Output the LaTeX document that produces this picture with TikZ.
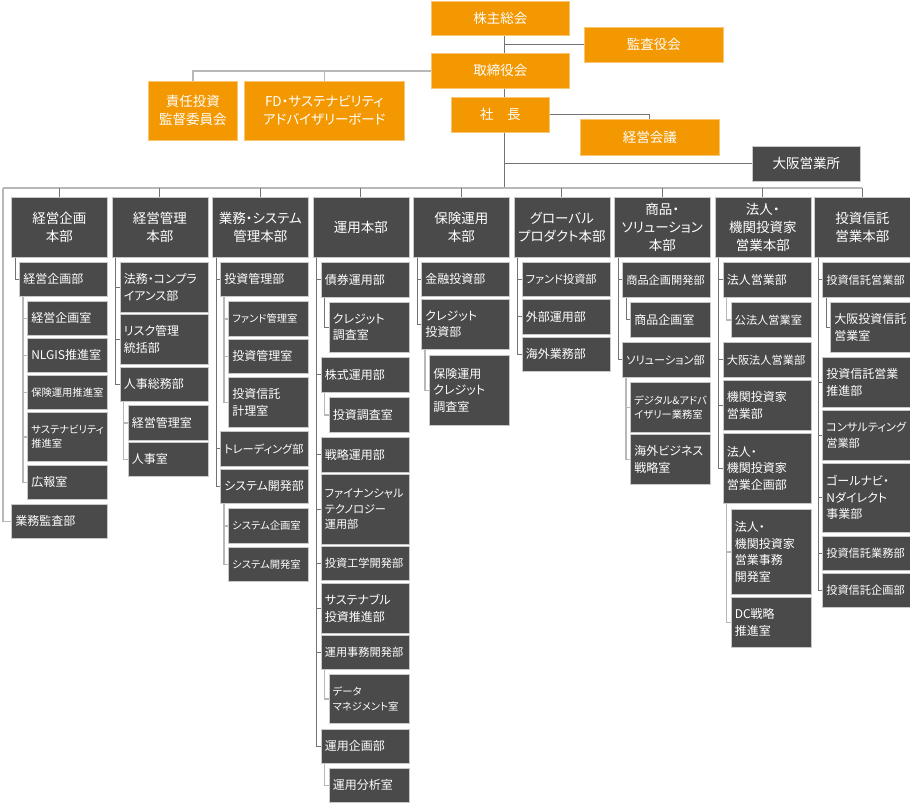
\documentclass[tikz,border=0pt]{standalone}
\usepackage{fontspec}
\setmainfont{Noto Sans CJK JP}[RawFeature=+palt]
\definecolor{orangebox}{HTML}{F39800}
\definecolor{darkbox}{HTML}{4A4A4A}
\definecolor{boxline}{HTML}{C8C8C8}

\begin{document}
\begin{tikzpicture}[x=1pt, y=-1pt,
    orgbox/.style={fill=orangebox, draw=orangebox!55!white, line width=0.6pt, text=white,
      font=\fontsize{13.5}{18}\selectfont, align=center, anchor=north west, inner sep=0pt},
    hqbox/.style={fill=darkbox, draw=boxline, line width=0.6pt, text=white,
      font=\fontsize{13.5}{18}\selectfont, align=center, anchor=north west, inner sep=0pt,
      minimum width=96pt, minimum height=60pt},
    bubox/.style={fill=darkbox, draw=boxline, line width=0.6pt, text=white,
      font=\fontsize{12}{16.5}\selectfont, align=left, anchor=north west,
      inner xsep=4pt, inner ysep=0pt, text width=80pt},
    shbox/.style={bubox, text width=72pt},
    midtext/.style={font=\fontsize{11.2}{15.5}\selectfont},
    smalltext/.style={font=\fontsize{10.3}{14.5}\selectfont},
    link/.style={draw=black!55, line width=0.7pt},
    tie/.style={draw=black!28, line width=1.5pt}
  ]
  \useasboundingbox (0,0) rectangle (910,803);
  \coordinate (spine) at (504,0);
  \coordinate (busL) at (3,188);
  \coordinate (busR) at (862,188);

  % top
  \node[orgbox, minimum width=138pt, minimum height=34pt] (kabu) at (431,1) {株主総会};
  \node[orgbox, minimum width=139pt, minimum height=35pt] (kansa) at (584,27) {監査役会};
  \node[orgbox, minimum width=138pt, minimum height=35pt] (tori) at (431,53) {取締役会};
  \node[orgbox, minimum width=89pt, minimum height=59pt] (sekinin) at (148,81) {責任投資\\監督委員会};
  \node[orgbox, minimum width=160pt, minimum height=59pt] (fd) at (244,81) {FD・サステナビリティ\\アドバイザリーボード};
  \node[orgbox, minimum width=98pt, minimum height=35pt] (shacho) at (451,97) {社　長};
  \node[orgbox, minimum width=139pt, minimum height=36pt] (kaigi) at (580,119) {経営会議};
  \node[hqbox, minimum width=108pt, minimum height=35pt] (osaka) at (752,146) {大阪営業所};

  % headquarters
  \node[hqbox] (hq1) at (11,197) {経営企画\\本部};
  \node[hqbox] (hq2) at (111.5,197) {経営管理\\本部};
  \node[hqbox] (hq3) at (212,197) {業務・システム\\管理本部};
  \node[hqbox] (hq4) at (312.5,197) {運用本部};
  \node[hqbox] (hq5) at (413,197) {保険運用\\本部};
  \node[hqbox] (hq6) at (513.5,197) {グローバル\\プロダクト本部};
  \node[hqbox] (hq7) at (614,197) {商品・\\ソリューション\\本部};
  \node[hqbox] (hq8) at (714.5,197) {法人・\\機関投資家\\営業本部};
  \node[hqbox] (hq9) at (814,197) {投資信託\\営業本部};

  % column 1
  \node[bubox, minimum height=34pt] (c1a) at (19,262) {経営企画部};
  \node[shbox, minimum height=34pt] (c1b) at (27,301) {経営企画室};
  \node[shbox, minimum height=34pt] (c1c) at (27,338) {NLGIS推進室};
  \node[shbox, smalltext, minimum height=34pt] (c1d) at (27,375) {保険運用推進室};
  \node[shbox, smalltext, minimum height=49pt] (c1e) at (27,412) {サステナビリティ\\推進室};
  \node[shbox, minimum height=34pt] (c1f) at (27,465) {広報室};
  \node[bubox, text width=88pt, minimum height=34pt] (c1g) at (11,504) {業務監査部};

  % column 2
  \node[bubox, minimum height=50pt] (c2a) at (119.5,262) {法務・コンプラ\\イアンス部};
  \node[bubox, minimum height=50pt] (c2b) at (119.5,314) {リスク管理\\統括部};
  \node[bubox, minimum height=34pt] (c2c) at (119.5,367) {人事総務部};
  \node[shbox, minimum height=35pt] (c2d) at (127.5,405) {経営管理室};
  \node[shbox, minimum height=34pt] (c2e) at (127.5,442) {人事室};

  % column 3
  \node[bubox, minimum height=34pt] (c3a) at (220,262) {投資管理部};
  \node[shbox, smalltext, minimum height=35pt] (c3b) at (228,301) {ファンド管理室};
  \node[shbox, minimum height=34pt] (c3c) at (228,339) {投資管理室};
  \node[shbox, minimum height=50pt] (c3d) at (228,377) {投資信託\\計理室};
  \node[bubox, midtext, minimum height=35pt] (c3e) at (220,431) {トレーディング部};
  \node[bubox, minimum height=34pt] (c3f) at (220,469) {システム開発部};
  \node[shbox, smalltext, minimum height=35pt] (c3g) at (228,508) {システム企画室};
  \node[shbox, smalltext, minimum height=34pt] (c3h) at (228,547) {システム開発室};

  % column 4
  \node[bubox, minimum height=35pt] (c4a) at (320.5,262) {債券運用部};
  \node[shbox, minimum height=50pt] (c4b) at (328.5,302) {クレジット\\調査室};
  \node[bubox, minimum height=35pt] (c4c) at (320.5,357) {株式運用部};
  \node[shbox, minimum height=35pt] (c4d) at (328.5,397) {投資調査室};
  \node[bubox, minimum height=35pt] (c4e) at (320.5,437) {戦略運用部};
  \node[bubox, midtext, minimum height=70pt] (c4f) at (320.5,474) {ファイナンシャル\\テクノロジー\\運用部};
  \node[bubox, midtext, minimum height=34pt] (c4g) at (320.5,546) {投資工学開発部};
  \node[bubox, minimum height=50pt] (c4h) at (320.5,583) {サステナブル\\投資推進部};
  \node[bubox, midtext, minimum height=34pt] (c4i) at (320.5,635) {運用事務開発部};
  \node[shbox, smalltext, minimum height=49pt] (c4j) at (328.5,674) {データ\\マネジメント室};
  \node[bubox, minimum height=34pt] (c4k) at (320.5,729) {運用企画部};
  \node[shbox, minimum height=34pt] (c4l) at (328.5,768) {運用分析室};

  % column 5
  \node[bubox, minimum height=34pt] (c5a) at (421,262) {金融投資部};
  \node[bubox, minimum height=50pt] (c5b) at (421,299) {クレジット\\投資部};
  \node[shbox, minimum height=70pt] (c5c) at (429,355) {保険運用\\クレジット\\調査室};

  % column 6
  \node[bubox, midtext, minimum height=34pt] (c6a) at (521.5,262) {ファンド投資部};
  \node[bubox, minimum height=35pt] (c6b) at (521.5,299) {外部運用部};
  \node[bubox, minimum height=34pt] (c6c) at (521.5,337) {海外業務部};

  % column 7
  \node[bubox, midtext, minimum height=35pt] (c7a) at (622,262) {商品企画開発部};
  \node[shbox, minimum height=35pt] (c7b) at (630,302) {商品企画室};
  \node[bubox, midtext, minimum height=35pt] (c7c) at (622,342) {ソリューション部};
  \node[shbox, smalltext, minimum height=50pt] (c7d) at (630,382) {デジタル\&アドバ\\イザリー業務室};
  \node[shbox, minimum height=50pt] (c7e) at (630,434) {海外ビジネス\\戦略室};

  % column 8
  \node[bubox, minimum height=35pt] (c8a) at (722.5,262) {法人営業部};
  \node[shbox, midtext, minimum height=35pt] (c8b) at (730.5,302) {公法人営業室};
  \node[bubox, midtext, minimum height=35pt] (c8c) at (722.5,342) {大阪法人営業部};
  \node[bubox, minimum height=50pt] (c8d) at (722.5,380) {機関投資家\\営業部};
  \node[bubox, minimum height=70pt] (c8e) at (722.5,433) {法人・\\機関投資家\\営業企画部};
  \node[shbox, minimum height=85pt] (c8f) at (730.5,509) {法人・\\機関投資家\\営業事務\\開発室};
  \node[shbox, minimum height=50pt] (c8g) at (730.5,597) {DC戦略\\推進室};

  % column 9
  \node[bubox, midtext, minimum height=35pt] (c9a) at (822,262) {投資信託営業部};
  \node[shbox, minimum height=50pt] (c9b) at (830,302) {大阪投資信託\\営業室};
  \node[bubox, minimum height=50pt] (c9c) at (822,357) {投資信託営業\\推進部};
  \node[bubox, midtext, minimum height=50pt] (c9d) at (822,410) {コンサルティング\\営業部};
  \node[bubox, minimum height=69pt] (c9e) at (822,463) {ゴールナビ・\\Nダイレクト\\事業部};
  \node[bubox, midtext, minimum height=34pt] (c9f) at (822,536) {投資信託業務部};
  \node[bubox, midtext, minimum height=34pt] (c9g) at (822,573) {投資信託企画部};

  % connectors
  \draw[link] (kabu.south -| spine) -- (tori.north -| spine);
  \draw[link] (kansa.west) -- (kansa.west -| spine);
  \draw[tie] (tori.west) -| (sekinin.north);
  \draw[tie] (tori.west -| fd.north) -- (fd.north);
  \draw[link] (tori.south -| spine) -- (shacho.north -| spine);
  \draw[link] (shacho.east) -| (kaigi.north);
  \draw[link] (osaka.west) -- (osaka.west -| spine);
  \draw[link] (shacho.south -| spine) -- (busL -| spine);
  \draw[tie] (busL) -- (busR);
  \draw[tie] (busL) |- (c1g.west);
  \foreach \n in {hq1,hq2,hq3,hq4,hq5,hq6,hq7,hq8,hq9}
    \draw[link] (\n.north |- busL) -- (\n.north);

  \draw[link] ([xshift=4pt]hq1.south west) |- (c1a.west);
  \foreach \n in {c1b,c1c,c1d,c1e,c1f}
    \draw[tie] ([xshift=4pt]c1a.south west) |- (\n.west);
  \foreach \n in {c2a,c2b,c2c}
    \draw[link] ([xshift=4pt]hq2.south west) |- (\n.west);
  \foreach \n in {c2d,c2e}
    \draw[tie] ([xshift=4pt]c2c.south west) |- (\n.west);
  \foreach \n in {c3a,c3e,c3f}
    \draw[link] ([xshift=4pt]hq3.south west) |- (\n.west);
  \foreach \n in {c3b,c3c,c3d}
    \draw[tie] ([xshift=4pt]c3a.south west) |- (\n.west);
  \foreach \n in {c3g,c3h}
    \draw[tie] ([xshift=4pt]c3f.south west) |- (\n.west);
  \foreach \n in {c4a,c4c,c4e,c4f,c4g,c4h,c4i,c4k}
    \draw[link] ([xshift=4pt]hq4.south west) |- (\n.west);
  \draw[link] ([xshift=4pt]c4a.south west) |- (c4b.west);
  \draw[tie] ([xshift=4pt]c4c.south west) |- (c4d.west);
  \draw[tie] ([xshift=4pt]c4i.south west) |- (c4j.west);
  \draw[tie] ([xshift=4pt]c4k.south west) |- (c4l.west);
  \foreach \n in {c5a,c5b}
    \draw[link] ([xshift=4pt]hq5.south west) |- (\n.west);
  \draw[tie] ([xshift=4pt]c5b.south west) |- (c5c.west);
  \foreach \n in {c6a,c6b,c6c}
    \draw[link] ([xshift=4pt]hq6.south west) |- (\n.west);
  \foreach \n in {c7a,c7c}
    \draw[link] ([xshift=4pt]hq7.south west) |- (\n.west);
  \draw[link] ([xshift=4pt]c7a.south west) |- (c7b.west);
  \foreach \n in {c7d,c7e}
    \draw[tie] ([xshift=4pt]c7c.south west) |- (\n.west);
  \foreach \n in {c8a,c8c,c8d,c8e}
    \draw[link] ([xshift=4pt]hq8.south west) |- (\n.west);
  \draw[tie] ([xshift=4pt]c8a.south west) |- (c8b.west);
  \foreach \n in {c8f,c8g}
    \draw[tie] ([xshift=4pt]c8e.south west) |- (\n.west);
  \foreach \n in {c9a,c9c,c9d,c9e,c9f,c9g}
    \draw[link] ([xshift=4pt]hq9.south west) |- (\n.west);
  \draw[link] ([xshift=4pt]c9a.south west) |- (c9b.west);
\end{tikzpicture}
\end{document}
